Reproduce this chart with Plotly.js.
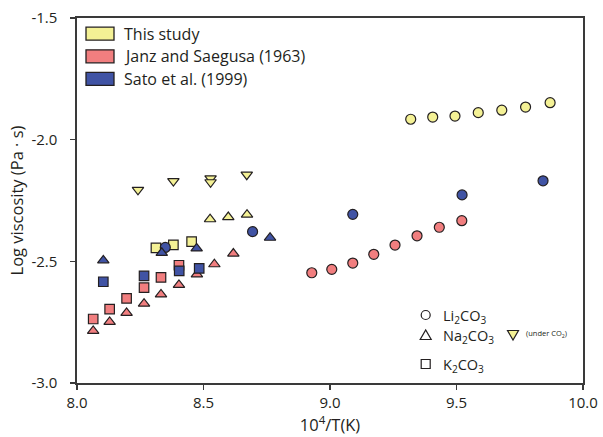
<!DOCTYPE html>
<html><head><meta charset="utf-8">
<script src="https://cdn.plot.ly/plotly-3.0.1.min.js"></script>
<style>body{margin:0;background:#fff}#c{width:603px;height:437px}</style>
</head><body><div id="c"></div>
<script>
// ---- data (10^4/T, log viscosity) ----
const liThisX = [9.319, 9.406, 9.494, 9.586, 9.679, 9.773, 9.870];
const liThisY = [-1.916, -1.907, -1.903, -1.889, -1.879, -1.866, -1.848];
const naThisX = [8.526, 8.598, 8.672];
const naThisY = [-2.327, -2.318, -2.308];
const naCO2X = [8.241, 8.381, 8.528, 8.528, 8.671];
const naCO2Y = [-2.206, -2.170, -2.159, -2.175, -2.144];
const kThisX = [8.312, 8.381, 8.453];
const kThisY = [-2.445, -2.432, -2.419];

const liJanzX = [8.928, 9.007, 9.090, 9.173, 9.257, 9.344, 9.432, 9.521];
const liJanzY = [-2.547, -2.533, -2.507, -2.471, -2.433, -2.395, -2.360, -2.333];
const naJanzX = [8.064, 8.129, 8.196, 8.265, 8.332, 8.403, 8.474, 8.543, 8.618];
const naJanzY = [-2.786, -2.749, -2.712, -2.674, -2.636, -2.597, -2.554, -2.512, -2.468];
const kJanzX = [8.064, 8.129, 8.196, 8.265, 8.332, 8.403];
const kJanzY = [-2.737, -2.696, -2.652, -2.608, -2.566, -2.516];

const liSatoX = [8.349, 8.694, 9.090, 9.522, 9.842];
const liSatoY = [-2.443, -2.378, -2.307, -2.227, -2.169];
const naSatoX = [8.104, 8.335, 8.473, 8.763];
const naSatoY = [-2.496, -2.465, -2.447, -2.403];
const kSatoX = [8.104, 8.265, 8.404, 8.483];
const kSatoY = [-2.584, -2.560, -2.539, -2.529];

const sources = ["This study", "Janz and Saegusa (1963)", "Sato et al. (1999)"];
const compounds = ["Li<sub>2</sub>CO<sub>3</sub>", "Na<sub>2</sub>CO<sub>3</sub>", "K<sub>2</sub>CO<sub>3</sub>"];
const xTicks = [8.0, 8.5, 9.0, 9.5, 10.0];
const xTickText = ["8.0", "8.5", "9.0", "9.5", "10.0"];
const yTicks = [-3.0, -2.5, -2.0, -1.5];
const yTickText = ["-3.0", "-2.5", "-2.0", "-1.5"];

// ---- style ----
const YEL = "#f4f195", RED = "#f17e7f", BLU = "#4053a4", EDGE = "#231f20";
const FONT = "Open Sans, sans-serif";

function tr(x, y, color, symbol, size) {
  return {x: x, y: y, type: "scatter", mode: "markers", showlegend: false, hoverinfo: "skip",
    marker: {color: color, symbol: symbol, size: size, line: {color: EDGE, width: 1.2}}};
}
const data = [
  tr(liJanzX, liJanzY, RED, "circle", 10),
  tr(kJanzX, kJanzY, RED, "square", 9.5),
  tr(naJanzX, naJanzY, RED, "triangle-up", 10),
  tr(liThisX, liThisY, YEL, "circle", 10),
  tr(naCO2X, naCO2Y, YEL, "triangle-down", 10),
  tr(naThisX, naThisY, YEL, "triangle-up", 10),
  tr(kThisX, kThisY, YEL, "square", 9.5),
  tr(liSatoX, liSatoY, BLU, "circle", 10),
  tr(kSatoX, kSatoY, BLU, "square", 9.5),
  tr(naSatoX, naSatoY, BLU, "triangle-up", 10)
];

// plot area in pixels
const L = 77, R = 583, T = 18, B = 383, W = 603, H = 437;
const px = v => (v - L) / (R - L);
const py = v => (B - v) / (B - T);

const shapes = [], annotations = [];
// top-left legend
const legCols = [YEL, RED, BLU];
const legY = [33.7, 56.3, 78.8];
sources.forEach((s, i) => {
  shapes.push({type: "rect", xref: "paper", yref: "paper",
    x0: px(86), x1: px(114), y0: py(legY[i] + 6.5), y1: py(legY[i] - 6.5),
    fillcolor: legCols[i], line: {color: EDGE, width: 1.3}});
  annotations.push({xref: "paper", yref: "paper", x: px(122), y: py(legY[i]),
    xanchor: "left", yanchor: "middle", showarrow: false, text: s,
    font: {family: FONT, size: 16, color: EDGE}});
});
// bottom-right symbol legend
const symX = 425.7, symY = [315, 335.5, 364];
shapes.push({type: "circle", xref: "paper", yref: "paper", xsizemode: "pixel", ysizemode: "pixel",
  xanchor: px(symX), yanchor: py(symY[0]), x0: -4.5, x1: 4.5, y0: -4.5, y1: 4.5,
  fillcolor: "white", line: {color: EDGE, width: 1.2}});
shapes.push({type: "path", xref: "paper", yref: "paper", xsizemode: "pixel", ysizemode: "pixel",
  xanchor: px(symX), yanchor: py(symY[1]), path: "M-5.5,-4 L5.5,-4 L0,5.5 Z",
  fillcolor: "white", line: {color: EDGE, width: 1.2}});
shapes.push({type: "rect", xref: "paper", yref: "paper", xsizemode: "pixel", ysizemode: "pixel",
  xanchor: px(symX), yanchor: py(symY[2]), x0: -4.5, x1: 4.5, y0: -4.5, y1: 4.5,
  fillcolor: "white", line: {color: EDGE, width: 1.2}});
shapes.push({type: "path", xref: "paper", yref: "paper", xsizemode: "pixel", ysizemode: "pixel",
  xanchor: px(513), yanchor: py(334.5), path: "M-5.5,4 L5.5,4 L0,-5.5 Z",
  fillcolor: YEL, line: {color: EDGE, width: 1.2}});
compounds.forEach((c, i) => {
  annotations.push({xref: "paper", yref: "paper", x: px(441), y: py(symY[i] + 1),
    xanchor: "left", yanchor: "middle", showarrow: false, text: c,
    font: {family: FONT, size: 14.5, color: EDGE}});
});
annotations.push({xref: "paper", yref: "paper", x: px(524), y: py(334), xanchor: "left", yanchor: "middle",
  showarrow: false, text: "(under CO<sub>2</sub>)", font: {family: FONT, size: 7.5, color: EDGE}});

const axisCommon = {showgrid: false, zeroline: false, showline: true, mirror: true,
  linecolor: "#3a3a3a", linewidth: 1.6, ticks: "outside", ticklen: 5, tickwidth: 1.2,
  tickcolor: "#3a3a3a", tickfont: {family: FONT, size: 15, color: EDGE}};

const layout = {
  width: W, height: H, margin: {l: L, r: W - R, t: T, b: H - B},
  paper_bgcolor: "white", plot_bgcolor: "white",
  xaxis: Object.assign({}, axisCommon, {range: [8, 10], tickmode: "array", tickvals: xTicks, ticktext: xTickText,
    title: {text: "10<sup>4</sup>/T(K)", font: {family: FONT, size: 16.5, color: EDGE}, standoff: 4}}),
  yaxis: Object.assign({}, axisCommon, {range: [-3, -1.5], tickmode: "array", tickvals: yTicks, ticktext: yTickText,
    ticklabelstandoff: 10,
    title: {text: "Log viscosity (Pa · s)", font: {family: FONT, size: 16.5, color: EDGE}, standoff: 4}}),
  shapes: shapes, annotations: annotations
};
Plotly.newPlot("c", data, layout, {staticPlot: true, displayModeBar: false});
</script></body></html>
